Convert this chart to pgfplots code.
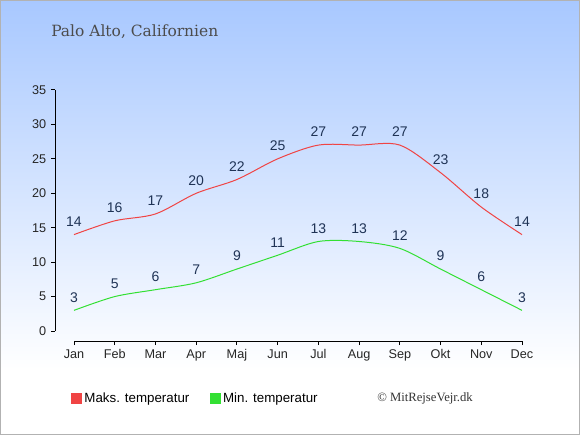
\documentclass[border=0pt]{standalone}
\usepackage{fontspec}
\setmainfont{Liberation Sans}
\newfontfamily\titlefont{DejaVu Serif}
\newfontfamily\copyfont{Liberation Serif}
\usepackage{pgfplots}
\pgfplotsset{compat=1.18}
\definecolor{topblue}{RGB}{168,200,255}
\definecolor{maxc}{RGB}{240,68,68}
\definecolor{minc}{RGB}{51,224,51}
\definecolor{labc}{RGB}{31,51,85}
\definecolor{framec}{RGB}{178,178,178}
\begin{document}
\begin{tikzpicture}
\fill[white] (0,0) rectangle (435pt,326.25pt);
\shade[top color=topblue, bottom color=white] (0pt,48.75pt) rectangle (435pt,326.25pt);
\draw[framec, line width=0.75pt] (0.375pt,0.375pt) rectangle (434.625pt,325.875pt);
\node[anchor=west, inner sep=0pt, text=black!70, font=\titlefont\fontsize{11.6pt}{13pt}\selectfont] at (38.25pt,302.25pt) {Palo Alto, Californien};
\node[anchor=center, inner sep=0pt, text=black!80, font=\copyfont\fontsize{9.5pt}{11pt}\selectfont] at (318.75pt,27.75pt) {© MitRejseVejr.dk};
\begin{axis}[
  at={(41.25pt,70.5pt)}, anchor=south west,
  scale only axis, width=350.25pt, height=188.25pt,
  xmin=-0.4665, xmax=11, ymin=-1.452, ymax=35,
  axis line style={draw=none},
  xtick={0,...,11},
  xticklabels={Jan,Feb,Mar,Apr,Maj,Jun,Jul,Aug,Sep,Okt,Nov,Dec},
  ytick={0,5,...,35},
  tick align=outside, xtick pos=bottom, ytick pos=left,
  major tick length=3pt,
  tick style={black, line width=0.75pt},
  ticklabel style={font=\fontsize{9.5pt}{11pt}\selectfont, text=black!85},
  /pgf/number format/assume math mode=true,
  clip=false,
  nodes near coords,
  every node near coord/.append style={anchor=center, yshift=9.75pt, text=labc, font=\fontsize{10.5pt}{12pt}\selectfont},
  legend columns=2,
  legend style={at={(0.026,-0.231)}, anchor=west, draw=none, fill=none,
    font=\fontsize{10pt}{12pt}\selectfont,
    /tikz/every even column/.append style={column sep=14pt},
    nodes={inner sep=1.5pt}},
]
\draw[black, line width=0.75pt] (axis cs:-0.4665,0) -- (axis cs:-0.4665,35);
\draw[black, line width=0.75pt] (axis cs:0,-1.452) -- (axis cs:11,-1.452);
\addplot[maxc, line width=0.75pt, smooth, tension=0.5, mark=none,
  legend image code/.code={\fill[maxc] (0pt,-3.75pt) rectangle (7.5pt,3.75pt);}] coordinates {
(0,14) (1,16) (2,17) (3,20) (4,22) (5,25) (6,27) (7,27) (8,27) (9,23) (10,18) (11,14)};
\addlegendentry{Maks. temperatur}
\addplot[minc, line width=0.75pt, smooth, tension=0.5, mark=none,
  legend image code/.code={\fill[minc] (0pt,-3.75pt) rectangle (7.5pt,3.75pt);}] coordinates {
(0,3) (1,5) (2,6) (3,7) (4,9) (5,11) (6,13) (7,13) (8,12) (9,9) (10,6) (11,3)};
\addlegendentry{Min. temperatur}
\end{axis}
\end{tikzpicture}
\end{document}
